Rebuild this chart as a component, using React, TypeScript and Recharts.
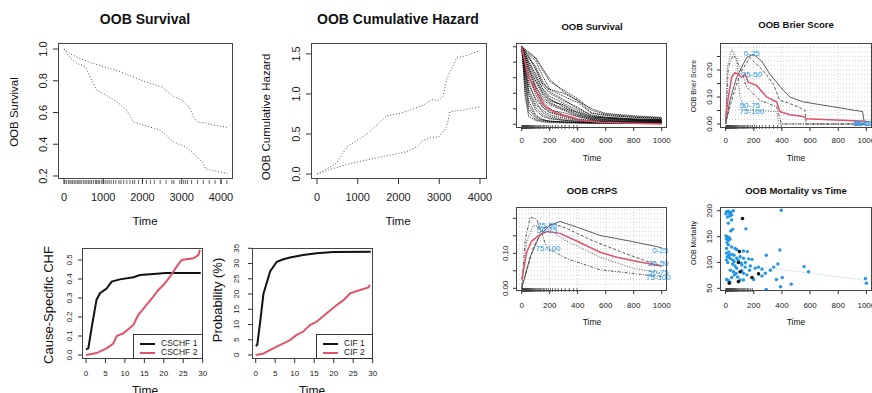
import React from 'react';
import { ComposedChart, Line, Scatter, XAxis, YAxis, ReferenceLine } from 'recharts';

const FONT = '"Liberation Sans", Arial, Helvetica, sans-serif';
const RED = '#DF536B';
const BLUE = '#2297E6';
const GRAY = '#4a4a4a';

// ---------- Panel 1: OOB Survival (left) ----------
const survTimeA = [0, 150, 330, 600, 1000, 1400, 2000, 2500, 2800, 3000, 3200, 3300, 3400, 3600, 3800, 4100, 4170];
const survValA = [1.0, 0.97, 0.95, 0.92, 0.89, 0.86, 0.8, 0.76, 0.7, 0.68, 0.63, 0.57, 0.54, 0.535, 0.52, 0.51, 0.505];
const survTimeB = [0, 100, 320, 540, 830, 920, 1340, 1600, 1770, 2030, 2450, 2790, 3130, 3390, 3550, 3600, 3980, 4170];
const survValB = [1.0, 0.96, 0.91, 0.89, 0.74, 0.73, 0.67, 0.615, 0.54, 0.52, 0.49, 0.415, 0.38, 0.32, 0.28, 0.245, 0.225, 0.215];
const survRug = [20, 60, 110, 150, 180, 220, 260, 300, 340, 380, 410, 450, 500, 540, 580, 620, 660, 700, 750, 800, 830, 870, 900, 950, 1000, 1050, 1100, 1150, 1200, 1260, 1320, 1400, 1450, 1520, 1600, 1680, 1750, 1800, 1900, 2000, 2100, 2200, 2300, 2450, 2600, 2750, 2800, 2950, 3050, 3100, 3150, 3250, 3400, 3550, 3700, 3850, 4000, 4150];
const bigTimeTicks = [0, 1000, 2000, 3000, 4000];
const survTicks = [0.2, 0.4, 0.6, 0.8, 1.0];

// ---------- Panel 2: OOB Cumulative Hazard ----------
const chfTimeA = [0, 250, 490, 735, 980, 1225, 1550, 1714, 2040, 2285, 2612, 2816, 2980, 3100, 3184, 3429, 3673, 4000];
const chfValA = [0, 0.07, 0.14, 0.34, 0.42, 0.5, 0.65, 0.73, 0.755, 0.8, 0.86, 0.93, 0.92, 0.98, 1.19, 1.45, 1.48, 1.54];
const chfTimeB = [0, 400, 816, 1632, 2204, 2449, 2612, 2816, 2980, 3184, 3265, 3592, 4000];
const chfValB = [0, 0.07, 0.13, 0.22, 0.28, 0.34, 0.42, 0.46, 0.46, 0.59, 0.78, 0.8, 0.84];
const chfTicks = [0, 0.5, 1.0, 1.5];

// ---------- Panel 3: Cause-Specific CHF ----------
const cschf1Time = [0, 0.6, 1.5, 2.7, 3.6, 5.3, 6.6, 8.7, 12.2, 13.9, 18.2, 20.5, 29.5];
const cschf1Val = [0.03, 0.035, 0.15, 0.29, 0.325, 0.35, 0.386, 0.398, 0.409, 0.421, 0.428, 0.432, 0.432];
const cschf2Time = [0, 2.7, 5.3, 7, 7.9, 9.6, 12.2, 13.4, 15.2, 17.3, 18.6, 19.9, 21.6, 23.3, 24.6, 27.6, 28.9, 29.3];
const cschf2Val = [0, 0.01, 0.035, 0.06, 0.1, 0.114, 0.158, 0.21, 0.254, 0.307, 0.342, 0.368, 0.412, 0.465, 0.5, 0.509, 0.526, 0.553];
const smallTimeTicks = [0, 5, 10, 15, 20, 25, 30];
const cschfTicks = [0, 0.1, 0.2, 0.3, 0.4, 0.5];

// ---------- Panel 4: CIF ----------
const cif1Time = [0, 0.4, 1.1, 2, 3.7, 5.4, 7.1, 8.8, 12.2, 15.6, 19.9, 29.5];
const cif1Val = [3, 3.3, 10.4, 20.2, 27.4, 30.6, 31.4, 32, 32.8, 33.4, 33.8, 33.9];
const cif2Time = [0, 2, 4.5, 7.1, 8.8, 10.5, 12.2, 13.9, 15.6, 18.2, 20.8, 22.5, 24.2, 26.8, 28.9, 29.3];
const cif2Val = [0, 0.5, 2.2, 3.8, 4.9, 6.6, 7.7, 9.8, 10.9, 13.7, 16.4, 18, 20.2, 21.3, 22.2, 23];
const cifTicks = [0, 5, 10, 15, 20, 25, 30, 35];

// ---------- Panel 5: OOB Survival (right, individual curves) ----------
const indivTimes = [0, 25, 50, 100, 150, 200, 300, 400, 500, 600, 800, 1000];
const indivCurves: number[][] = [
  [1, 0.35, 0.1, 0.05, 0.03, 0.02, 0.02, 0.02, 0.015, 0.015, 0.01, 0.01],
  [1, 0.6, 0.3, 0.12, 0.06, 0.04, 0.03, 0.02, 0.02, 0.02, 0.015, 0.015],
  [1, 0.75, 0.55, 0.3, 0.15, 0.1, 0.06, 0.04, 0.03, 0.03, 0.02, 0.02],
  [1, 0.85, 0.7, 0.5, 0.3, 0.2, 0.12, 0.06, 0.04, 0.035, 0.03, 0.03],
  [1, 0.9, 0.8, 0.65, 0.45, 0.33, 0.22, 0.12, 0.07, 0.06, 0.05, 0.05],
  [1, 0.92, 0.85, 0.75, 0.55, 0.42, 0.32, 0.2, 0.12, 0.09, 0.07, 0.06],
  [1, 0.95, 0.9, 0.82, 0.62, 0.45, 0.36, 0.28, 0.14, 0.12, 0.09, 0.08],
  [1, 0.93, 0.88, 0.72, 0.52, 0.45, 0.4, 0.31, 0.15, 0.11, 0.09, 0.07],
  [1, 0.8, 0.6, 0.42, 0.32, 0.25, 0.18, 0.1, 0.06, 0.05, 0.04, 0.04],
  [1, 0.7, 0.45, 0.25, 0.18, 0.12, 0.08, 0.05, 0.04, 0.03, 0.025, 0.02],
  [1, 0.5, 0.2, 0.08, 0.05, 0.04, 0.03, 0.025, 0.02, 0.02, 0.015, 0.012],
  [1, 0.88, 0.78, 0.6, 0.4, 0.3, 0.25, 0.15, 0.09, 0.08, 0.06, 0.05],
  [1, 0.82, 0.7, 0.55, 0.38, 0.28, 0.2, 0.16, 0.1, 0.08, 0.06, 0.05],
  [1, 0.96, 0.92, 0.85, 0.7, 0.55, 0.44, 0.33, 0.18, 0.13, 0.1, 0.08],
  [1, 0.65, 0.38, 0.18, 0.1, 0.07, 0.05, 0.03, 0.025, 0.02, 0.02, 0.02],
  [1, 0.9, 0.75, 0.45, 0.25, 0.18, 0.15, 0.1, 0.06, 0.05, 0.04, 0.035],
  [1, 0.55, 0.25, 0.1, 0.06, 0.04, 0.03, 0.02, 0.02, 0.015, 0.012, 0.01],
  [1, 0.78, 0.62, 0.38, 0.22, 0.15, 0.1, 0.06, 0.04, 0.035, 0.03, 0.025],
  [1, 0.86, 0.74, 0.56, 0.42, 0.32, 0.24, 0.14, 0.08, 0.07, 0.05, 0.045],
  [1, 0.94, 0.87, 0.7, 0.5, 0.4, 0.3, 0.22, 0.11, 0.09, 0.07, 0.06],
  [1, 0.72, 0.5, 0.33, 0.22, 0.16, 0.11, 0.07, 0.05, 0.04, 0.03, 0.03],
  [1, 0.97, 0.93, 0.86, 0.72, 0.58, 0.42, 0.3, 0.2, 0.14, 0.11, 0.09],
  [1, 0.4, 0.15, 0.06, 0.04, 0.03, 0.02, 0.015, 0.012, 0.01, 0.01, 0.008],
  [1, 0.84, 0.66, 0.48, 0.35, 0.27, 0.19, 0.12, 0.08, 0.06, 0.05, 0.04],
  [1, 0.68, 0.42, 0.22, 0.12, 0.08, 0.05, 0.035, 0.03, 0.025, 0.02, 0.02],
  [1, 0.91, 0.82, 0.62, 0.46, 0.36, 0.27, 0.18, 0.1, 0.08, 0.06, 0.055],
];
const meanSurvTime = [0, 36, 60, 83, 119, 167, 250, 369, 405, 560, 798, 1000];
const meanSurvVal = [1.0, 0.7, 0.57, 0.51, 0.36, 0.23, 0.14, 0.086, 0.056, 0.026, 0.013, 0.005];
const rightTimeTicks = [0, 200, 400, 600, 800, 1000];
const rightSurvTicks = [0, 0.2, 0.4, 0.6, 0.8, 1.0];
const rightRug = [2, 5, 8, 12, 15, 18, 22, 26, 30, 34, 38, 42, 46, 50, 55, 60, 65, 70, 76, 82, 88, 95, 102, 110, 118, 126, 135, 145, 155, 165, 178, 190, 205, 220, 240, 260, 285, 310, 340, 370, 395];

// ---------- Panel 6: OOB Brier Score ----------
const brierMeanT = [0, 19, 43, 66, 90, 113, 137, 161, 220, 291, 362, 385, 456, 551, 574, 1000];
const brierMeanV = [0.02, 0.1, 0.174, 0.19, 0.185, 0.173, 0.185, 0.155, 0.143, 0.1, 0.082, 0.046, 0.034, 0.028, 0.019, 0.01];
const brierQ1T = [0, 31, 78, 149, 196, 255, 314, 409, 456, 551, 973, 985, 1000];
const brierQ1V = [0, 0.088, 0.173, 0.246, 0.258, 0.234, 0.185, 0.125, 0.1, 0.082, 0.046, 0.004, 0.004];
const brierQ2T = [0, 43, 101, 172, 267, 338, 385, 456, 563, 574, 1000];
const brierQ2V = [0, 0.088, 0.185, 0.246, 0.198, 0.149, 0.088, 0.076, 0.052, 0.0, 0.0];
const brierQ3T = [0, 19, 54, 101, 149, 243, 362, 397, 1000];
const brierQ3V = [0, 0.21, 0.258, 0.21, 0.137, 0.088, 0.064, 0, 0];
const brierQ4T = [0, 12, 43, 78, 101, 149, 362, 380, 1000];
const brierQ4V = [0, 0.21, 0.276, 0.246, 0.1, 0.052, 0.046, 0, 0];
const brierLabels = [
  { x: 186, y: 0.263, label: '0-25' },
  { x: 186, y: 0.183, label: '25-50' },
  { x: 172, y: 0.07, label: '50-75' },
  { x: 186, y: 0.048, label: '75-100' },
  { x: 985, y: 0.004, label: '75-100' },
  { x: 985, y: 0.004, label: '50-75' },
  { x: 985, y: 0.004, label: '25-50' },
];
const brierTicks = [0, 0.05, 0.1, 0.15, 0.2, 0.25];
const brierTickLabels = [0, 0.1, 0.2];

// ---------- Panel 7: OOB CRPS ----------
const crpsMeanT = [0, 36, 71, 131, 179, 274, 393, 560, 679, 845, 1000];
const crpsMeanV = [0.025, 0.103, 0.135, 0.153, 0.162, 0.157, 0.135, 0.103, 0.089, 0.075, 0.064];
const crpsQ1T = [0, 60, 131, 202, 274, 393, 560, 798, 1000];
const crpsQ1V = [0, 0.089, 0.153, 0.18, 0.191, 0.175, 0.151, 0.133, 0.116];
const crpsQ2T = [0, 83, 155, 226, 321, 512, 750, 1000];
const crpsQ2V = [0, 0.116, 0.171, 0.185, 0.171, 0.135, 0.098, 0.062];
const crpsQ3T = [0, 36, 83, 179, 321, 560, 798, 1000];
const crpsQ3V = [0, 0.135, 0.18, 0.171, 0.135, 0.089, 0.057, 0.044];
const crpsQ4T = [0, 24, 60, 107, 179, 321, 560, 1000];
const crpsQ4V = [0, 0.135, 0.203, 0.198, 0.116, 0.085, 0.053, 0.033];
const crpsLabels = [
  { x: 181, y: 0.181, label: '25-50' },
  { x: 181, y: 0.166, label: '50-75' },
  { x: 188, y: 0.115, label: '75-100' },
  { x: 990, y: 0.11, label: '0-25' },
  { x: 976, y: 0.072, label: '25-50' },
  { x: 976, y: 0.045, label: '50-75' },
  { x: 976, y: 0.032, label: '75-100' },
];
const crpsTicks = [0, 0.05, 0.1, 0.15, 0.2];
const crpsTickLabels = [0, 0.1];

// ---------- Panel 8: OOB Mortality vs Time ----------
const mortBlueT = [7, 19, 26, 36, 43, 55, 14, 31, 2, 43, 19, 50, 36, 12, 26, 7, 19, 31, 2, 144, 19, 43, 7, 67, 79, 127, 155, 7, 26, 43, 60, 12, 31, 50, 79, 103, 127, 163, 187, 50, 67, 79, 115, 139, 175, 210, 234, 258, 55, 74, 127, 151, 199, 258, 282, 318, 342, 371, 385, 289, 361, 402, 390, 466, 289, 557, 589, 993, 1000, 395, 7, 19, 31, 127, 103, 43, 62, 10, 22, 60, 90, 110, 140, 85, 115, 170, 33, 15, 5];
const mortBlueV = [198, 199, 195, 197, 192, 200, 188, 190, 194, 182, 176, 164, 161, 150, 148, 145, 143, 145, 151, 165, 134, 130, 127, 127, 125, 122, 121, 118, 114, 116, 114, 111, 108, 105, 108, 111, 108, 107, 106, 97, 93, 89, 95, 91, 93, 89, 91, 87, 82, 79, 79, 76, 67, 74, 79, 85, 91, 97, 124, 114, 67, 71, 53, 58, 48, 92, 82, 69, 60, 201, 67, 65, 62, 66, 66, 71, 76, 138, 120, 102, 104, 99, 100, 72, 84, 85, 85, 100, 105];
const mortBlackT = [120, 98, 91, 103, 187, 234, 26, 91];
const mortBlackV = [185, 121, 100, 82, 71, 78, 60, 63];
const mortSmoothT = [0, 100, 222, 400, 600, 800, 1000];
const mortSmoothV = [112, 98, 92, 86, 79, 72, 65];
const mortTicks = [50, 100, 150, 200];

const zip = (xs: number[], ys: number[]) => xs.map((x, i) => ({ x, y: ys[i] }));

const rugShape = (up: number, down: number) => (p: any) => (
  <line x1={p.cx} x2={p.cx} y1={p.cy - up} y2={p.cy + down} stroke="#222" strokeWidth={0.7} />
);
const labelShape = (p: any) => (
  <text x={p.cx} y={p.cy} dy="0.35em" textAnchor="middle" fontSize={8} fill={BLUE} fontFamily={FONT}>
    {p.payload?.label ?? p.label}
  </text>
);
const dotShape = (color: string, r: number) => (p: any) => <circle cx={p.cx} cy={p.cy} r={r} fill={color} />;

type PanelProps = {
  box: [number, number, number, number];
  xDomain: [number, number];
  yDomain: [number, number];
  xTicks: number[];
  yTicks: number[];
  yShow?: number[];
  yFmt?: (v: number) => string;
  font: number;
  xts: number;
  xtm: number;
  yts: number;
  ytm: number;
  children?: React.ReactNode;
};

function Panel({ box, xDomain, yDomain, xTicks, yTicks, yShow, yFmt, font, xts, xtm, yts, ytm, children }: PanelProps) {
  const [l, t, r, b] = box;
  const YW = 40;
  const XH = 34;
  const MT = 14;
  const MR = 16;
  const w = r - l;
  const h = b - t;
  const yTick = (p: any) => {
    const v = p.payload.value;
    if (yShow && !yShow.some((s) => Math.abs(s - v) < 1e-9)) return <g />;
    const label = yFmt ? yFmt(v) : String(v);
    return (
      <text x={p.x} y={p.y} transform={`rotate(-90 ${p.x} ${p.y})`} textAnchor="middle" fontSize={font} fill="#222" fontFamily={FONT}>
        {label}
      </text>
    );
  };
  return (
    <div style={{ position: 'absolute', left: l - YW, top: t - MT, width: w + YW + MR, height: h + XH + MT }}>
      <ComposedChart width={w + YW + MR} height={h + XH + MT} margin={{ top: MT, right: MR, bottom: 0, left: 0 }}>
        <XAxis
          type="number"
          dataKey="x"
          domain={xDomain}
          ticks={xTicks}
          interval={0}
          axisLine={false}
          tickSize={xts}
          tickMargin={xtm}
          height={XH}
          tick={{ fontSize: font, fill: '#222', fontFamily: FONT }}
          tickLine={{ stroke: '#333' }}
        />
        <YAxis
          type="number"
          dataKey="y"
          domain={yDomain}
          ticks={yTicks}
          interval={0}
          axisLine={false}
          tickSize={yts}
          tickMargin={ytm}
          width={YW}
          tick={yTick}
          tickLine={{ stroke: '#333' }}
        />
        {children}
      </ComposedChart>
      <div
        style={{
          position: 'absolute',
          left: YW,
          top: MT,
          width: w,
          height: h,
          border: '1px solid #444',
          boxSizing: 'border-box',
          pointerEvents: 'none',
        }}
      />
    </div>
  );
}

function T({ x, y, size, bold, rot, color, children }: any) {
  return (
    <div
      style={{
        position: 'absolute',
        left: x,
        top: y,
        transform: `translate(-50%, -50%)${rot ? ' rotate(-90deg)' : ''}`,
        fontSize: size,
        fontWeight: bold ? 700 : 400,
        whiteSpace: 'nowrap',
        color: color || '#111',
        lineHeight: 1,
        fontFamily: FONT,
      }}
    >
      {children}
    </div>
  );
}

function LegendBox({ left, top, width, items }: any) {
  return (
    <div
      style={{
        position: 'absolute',
        left,
        top,
        width,
        height: 25,
        border: '1px solid #333',
        boxSizing: 'border-box',
        background: '#fff',
        fontFamily: FONT,
      }}
    >
      {items.map((it: any, i: number) => (
        <div key={i} style={{ position: 'absolute', left: 6, top: 4 + i * 9, height: 9, display: 'flex', alignItems: 'center' }}>
          <div style={{ width: 15, height: 2, background: it.color }} />
          <span style={{ marginLeft: 6, fontSize: 8.5, color: '#222', lineHeight: 1 }}>{it.label}</span>
        </div>
      ))}
    </div>
  );
}

const f1 = (v: number) => v.toFixed(1);
const f2 = (v: number) => v.toFixed(2);

const brierGridY = Array.from({ length: 17 }, (_, k) => ((k + 1) * 0.05) / 3);
const crpsGridY = Array.from({ length: 18 }, (_, k) => (k + 1) * 0.0125);
const gridX = [200, 400, 600, 800];

export default function App() {
  return (
    <div style={{ position: 'fixed', left: 0, top: 0, width: 872, height: 393, background: '#fff', overflow: 'hidden', fontFamily: FONT }}>
      {/* Panel 1 */}
      <T x={145} y={19} size={14} bold>OOB Survival</T>
      <T x={15} y={112} size={11.5} rot>OOB Survival</T>
      <T x={145} y={222} size={11.5}>Time</T>
      <Panel box={[58, 43, 233, 179]} xDomain={[-153, 4306]} yDomain={[0.181, 1.038]} xTicks={bigTimeTicks} yTicks={survTicks} yFmt={f1} font={11} xts={5} xtm={9} yts={5} ytm={6}>
        <Line data={zip(survTimeA, survValA)} dataKey="y" stroke="#555" strokeWidth={1} strokeDasharray="1 2" dot={false} isAnimationActive={false} />
        <Line data={zip(survTimeB, survValB)} dataKey="y" stroke="#555" strokeWidth={1} strokeDasharray="1 2" dot={false} isAnimationActive={false} />
        <Scatter data={survRug.map((x) => ({ x, y: 0.181 }))} shape={rugShape(-1, 5)} isAnimationActive={false} />
      </Panel>

      {/* Panel 2 */}
      <T x={398} y={19} size={14} bold>OOB Cumulative Hazard</T>
      <T x={267} y={117} size={11.5} rot>OOB Cumulative Hazard</T>
      <T x={398} y={222} size={11.5}>Time</T>
      <Panel box={[311, 43, 487, 179]} xDomain={[-147, 4172]} yDomain={[-0.062, 1.636]} xTicks={bigTimeTicks} yTicks={chfTicks} yFmt={f1} font={11} xts={5} xtm={9} yts={5} ytm={6}>
        <Line data={zip(chfTimeA, chfValA)} dataKey="y" stroke="#555" strokeWidth={1} strokeDasharray="1 2" dot={false} isAnimationActive={false} />
        <Line data={zip(chfTimeB, chfValB)} dataKey="y" stroke="#555" strokeWidth={1} strokeDasharray="1 2" dot={false} isAnimationActive={false} />
      </Panel>

      {/* Panel 3 */}
      <T x={48} y={305} size={13} rot>Cause-Specific CHF</T>
      <T x={145} y={391} size={12}>Time</T>
      <Panel box={[82, 248, 203, 359]} xDomain={[-1.03, 30.08]} yDomain={[-0.021, 0.563]} xTicks={smallTimeTicks} yTicks={cschfTicks} yFmt={f1} font={8} xts={4} xtm={7} yts={4} ytm={6}>
        <Line data={zip(cschf1Time, cschf1Val)} dataKey="y" stroke="#111" strokeWidth={2} dot={false} isAnimationActive={false} />
        <Line data={zip(cschf2Time, cschf2Val)} dataKey="y" stroke={RED} strokeWidth={2} dot={false} isAnimationActive={false} />
      </Panel>
      <LegendBox left={133} top={334} width={70} items={[{ color: '#111', label: 'CSCHF 1' }, { color: RED, label: 'CSCHF 2' }]} />

      {/* Panel 4 */}
      <T x={217} y={300} size={13} rot>Probability (%)</T>
      <T x={312} y={391} size={12}>Time</T>
      <Panel box={[252, 248, 373, 359]} xDomain={[-0.95, 30.08]} yDomain={[-1.31, 35.1]} xTicks={smallTimeTicks} yTicks={cifTicks} font={8} xts={4} xtm={7} yts={4} ytm={9}>
        <Line data={zip(cif1Time, cif1Val)} dataKey="y" stroke="#111" strokeWidth={2} dot={false} isAnimationActive={false} />
        <Line data={zip(cif2Time, cif2Val)} dataKey="y" stroke={RED} strokeWidth={2} dot={false} isAnimationActive={false} />
      </Panel>
      <LegendBox left={316} top={334} width={57} items={[{ color: '#111', label: 'CIF 1' }, { color: RED, label: 'CIF 2' }]} />

      {/* Panel 5 */}
      <T x={592} y={27} size={9.5} bold>OOB Survival</T>
      <T x={592} y={158} size={8.5}>Time</T>
      <Panel box={[516, 43, 667, 128]} xDomain={[-40.7, 1038]} yDomain={[-0.048, 1.048]} xTicks={rightTimeTicks} yTicks={rightSurvTicks} yShow={[]} font={8} xts={3} xtm={6} yts={3} ytm={6}>
        {indivCurves.map((c, i) => (
          <Line key={i} data={zip(indivTimes, c)} dataKey="y" stroke="#000" strokeWidth={0.8} strokeDasharray="1.2 0.8" dot={false} isAnimationActive={false} />
        ))}
        <Line data={zip(meanSurvTime, meanSurvVal)} dataKey="y" stroke={RED} strokeWidth={1.6} dot={false} isAnimationActive={false} />
        <Scatter data={rightRug.map((x) => ({ x, y: -0.048 }))} shape={rugShape(3, 1)} isAnimationActive={false} />
      </Panel>

      {/* Panel 6 */}
      <T x={796} y={25} size={9.5} bold>OOB Brier Score</T>
      <T x={693} y={86} size={7} rot>OOB Brier Score</T>
      <T x={796} y={158} size={8.5}>Time</T>
      <Panel box={[720, 43, 872, 128]} xDomain={[-40, 1040]} yDomain={[-0.0148, 0.3]} xTicks={rightTimeTicks} yTicks={brierTicks} yShow={brierTickLabels} yFmt={f2} font={8} xts={3} xtm={6} yts={3} ytm={5}>
        {brierGridY.map((v) => (
          <ReferenceLine key={'h' + v} y={v} stroke="#cfcfcf" strokeDasharray="1 2" />
        ))}
        {gridX.map((v) => (
          <ReferenceLine key={'v' + v} x={v} stroke="#cfcfcf" strokeDasharray="1 2" />
        ))}
        <Line data={zip(brierQ1T, brierQ1V)} dataKey="y" stroke={GRAY} strokeWidth={0.9} dot={false} isAnimationActive={false} />
        <Line data={zip(brierQ2T, brierQ2V)} dataKey="y" stroke={GRAY} strokeWidth={0.9} strokeDasharray="3 2" dot={false} isAnimationActive={false} />
        <Line data={zip(brierQ3T, brierQ3V)} dataKey="y" stroke={GRAY} strokeWidth={0.9} strokeDasharray="1 1.5 3 1.5" dot={false} isAnimationActive={false} />
        <Line data={zip(brierQ4T, brierQ4V)} dataKey="y" stroke={GRAY} strokeWidth={0.9} strokeDasharray="1 1.5" dot={false} isAnimationActive={false} />
        <Line data={zip(brierMeanT, brierMeanV)} dataKey="y" stroke={RED} strokeWidth={1.5} dot={false} isAnimationActive={false} />
        <Scatter data={rightRug.map((x) => ({ x, y: -0.0148 }))} shape={rugShape(3, 1)} isAnimationActive={false} />
        <Scatter data={brierLabels} shape={labelShape} isAnimationActive={false} />
      </Panel>

      {/* Panel 7 */}
      <T x={592} y={191} size={9.5} bold>OOB CRPS</T>
      <T x={592} y={322} size={8.5}>Time</T>
      <Panel box={[516, 207, 667, 291]} xDomain={[-40.7, 1038]} yDomain={[-0.0077, 0.2323]} xTicks={rightTimeTicks} yTicks={crpsTicks} yShow={crpsTickLabels} yFmt={f2} font={8} xts={3} xtm={8} yts={3} ytm={5}>
        {crpsGridY.map((v) => (
          <ReferenceLine key={'h' + v} y={v} stroke="#cfcfcf" strokeDasharray="1 2" />
        ))}
        {gridX.map((v) => (
          <ReferenceLine key={'v' + v} x={v} stroke="#cfcfcf" strokeDasharray="1 2" />
        ))}
        <Line data={zip(crpsQ1T, crpsQ1V)} dataKey="y" stroke={GRAY} strokeWidth={0.9} dot={false} isAnimationActive={false} />
        <Line data={zip(crpsQ2T, crpsQ2V)} dataKey="y" stroke={GRAY} strokeWidth={0.9} strokeDasharray="3 2" dot={false} isAnimationActive={false} />
        <Line data={zip(crpsQ3T, crpsQ3V)} dataKey="y" stroke={GRAY} strokeWidth={0.9} strokeDasharray="1 1.5" dot={false} isAnimationActive={false} />
        <Line data={zip(crpsQ4T, crpsQ4V)} dataKey="y" stroke={GRAY} strokeWidth={0.9} strokeDasharray="1 1.5 3 1.5" dot={false} isAnimationActive={false} />
        <Line data={zip(crpsMeanT, crpsMeanV)} dataKey="y" stroke={RED} strokeWidth={1.5} dot={false} isAnimationActive={false} />
        <Scatter data={rightRug.map((x) => ({ x, y: -0.0077 }))} shape={rugShape(3, 1)} isAnimationActive={false} />
        <Scatter data={crpsLabels} shape={labelShape} isAnimationActive={false} />
      </Panel>

      {/* Panel 8 */}
      <T x={796} y={191} size={9.5} bold>OOB Mortality vs Time</T>
      <T x={693} y={243} size={7} rot>OOB Mortality</T>
      <T x={796} y={322} size={8.5}>Time</T>
      <Panel box={[720, 207, 872, 291]} xDomain={[-40, 1040]} yDomain={[44.8, 207.2]} xTicks={rightTimeTicks} yTicks={mortTicks} font={8} xts={3} xtm={8} yts={3} ytm={5}>
        <Line data={zip(mortSmoothT, mortSmoothV)} dataKey="y" stroke="#9fd0f5" strokeWidth={1} strokeDasharray="1 1.5" dot={false} isAnimationActive={false} />
        <Scatter data={zip(mortBlueT, mortBlueV)} shape={dotShape(BLUE, 1.7)} isAnimationActive={false} />
        <Scatter data={zip(mortBlackT, mortBlackV)} shape={dotShape('#111', 1.8)} isAnimationActive={false} />
        <Scatter data={rightRug.filter((x) => x < 200).map((x) => ({ x, y: 44.8 }))} shape={rugShape(3, 1)} isAnimationActive={false} />
      </Panel>
    </div>
  );
}
